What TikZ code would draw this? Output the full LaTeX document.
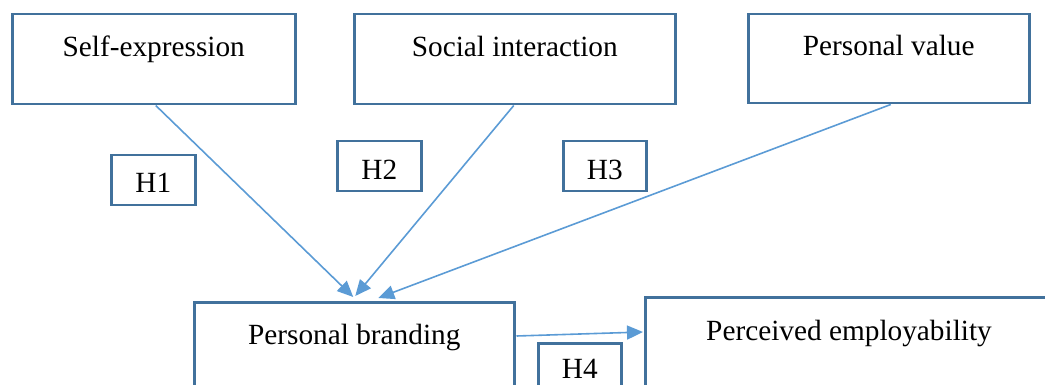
\documentclass[tikz,border=0pt]{standalone}
\usepackage{fontspec}
\setmainfont{Liberation Serif}
\newfontfamily\timesx{Liberation Serif}
\usetikzlibrary{arrows.meta,calc}
\definecolor{boxblue}{HTML}{41719C}
\definecolor{arrowblue}{HTML}{5B9BD5}
\begin{document}
\begin{tikzpicture}[x=1pt,y=-1pt,
  box/.style={draw=boxblue,line width=2.5pt,fill=none,rectangle,inner sep=0pt,anchor=north west},
  lbl/.style={anchor=base,inner sep=0pt,font=\timesx\fontsize{29.3}{35}\selectfont,text=black},
  conn/.style={draw=arrowblue,line width=1.6pt,-{Triangle[length=16pt,width=14pt]}}]
\useasboundingbox (0,0) rectangle (1045,385);
\clip (0,0) rectangle (1045,385);
% main boxes
\node[box,minimum width=283pt,minimum height=90pt] (se) at (11,13) {};
\node[box,minimum width=321pt,minimum height=90pt] (si) at (353,13) {};
\node[box,minimum width=281pt,minimum height=89pt] (pv) at (747,13) {};
\node[box,minimum width=320pt,minimum height=110pt] (pb) at (193,301) {};
\node[box,minimum width=410pt,minimum height=110pt] (pe) at (644,296) {};
% hypothesis boxes
\node[box,minimum width=84pt,minimum height=50pt] (h1) at (110,154) {};
\node[box,minimum width=84pt,minimum height=50pt] (h2) at (336,140) {};
\node[box,minimum width=83pt,minimum height=50pt] (h3) at (562,140) {};
\node[box,minimum width=83pt,minimum height=55pt] (h4) at (537,342) {};
% texts
\node[lbl] (tse) at ($(se.north)+(0,44)$) {Self-expression};
\node[lbl] (tsi) at ($(si.north)+(0,44)$) {Social interaction};
\node[lbl] (tpv) at ($(pv.north)+(0,43)$) {Personal value};
\node[lbl] (tpb) at ($(pb.north)+(0,43)$) {Personal branding};
\node[lbl] (tpe) at ($(pe.north west)+(205,44)$) {Perceived employability};
\node[lbl] (th1) at ($(h1.north)+(0,39)$) {H1};
\node[lbl] (th2) at ($(h2.north)+(0,39)$) {H2};
\node[lbl] (th3) at ($(h3.north)+(0,39)$) {H3};
\node[lbl] (th4) at ($(h4.north)+(0,36)$) {H4};
% connector end points
\coordinate (s1) at ($(se.south)+(2,0)$);
\coordinate (s2) at ($(si.south)+(-1,0)$);
\coordinate (s3) at ($(pv.south)+(2,0)$);
\coordinate (t1) at ($(pb.north)+(-1,-4)$);
\coordinate (t2) at ($(pb.north)+(1,-5)$);
\coordinate (t3) at ($(pb.north)+(24,-3)$);
\coordinate (s4) at ($(pb.north east)+(1,35)$);
\coordinate (t4) at ($(pe.north west)+(-1,36)$);
\draw[conn] (s1) -- (t1);
\draw[conn] (s2) -- (t2);
\draw[conn] (s3) -- (t3);
\draw[conn] (s4) -- (t4);
\end{tikzpicture}
\end{document}
